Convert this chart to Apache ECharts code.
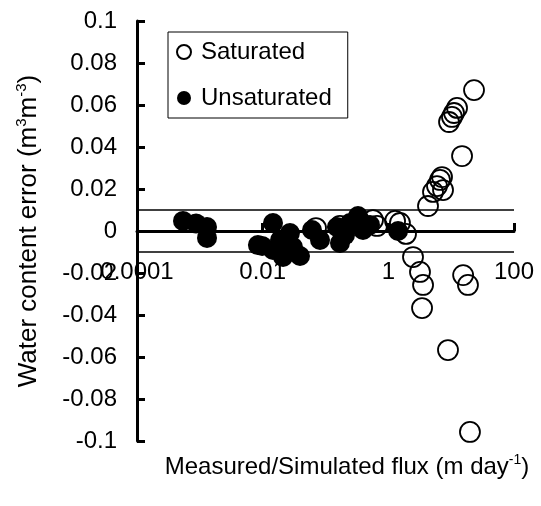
<!DOCTYPE html>
<html>
<head>
<meta charset="utf-8">
<script src="https://cdn.jsdelivr.net/npm/echarts@6/dist/echarts.min.js"></script>
<style>html,body{margin:0;padding:0;background:#fff;}#c{width:541px;height:506px;}</style>
</head>
<body>
<div id="c"></div>
<script>
// Flux (m/day) and water content error (m3/m3)
const saturatedFlux = [0.0706, 0.17, 0.354, 0.57, 0.66, 1.28, 1.53, 1.91, 2.47, 3.19, 3.57, 3.44, 4.28, 5.14, 5.95, 7.42, 6.65, 7.15, 9.25, 10.3, 11.1, 12.4, 23.1, 14.9, 8.9, 15.5, 18.5, 19.9];
const saturatedError = [0.0014, 0.0024, 0.0043, 0.0052, 0.0024, 0.0048, 0.0038, -0.0014, -0.0124, -0.0195, -0.0257, -0.0367, 0.0119, 0.0186, 0.0214, 0.0195, 0.0243, 0.0257, 0.0519, 0.0543, 0.0562, 0.0586, 0.0671, 0.0357, -0.0567, -0.021, -0.0257, -0.0957];
const unsaturatedFlux = [0.00054, 0.00087, 0.0013, 0.0013, 0.0084, 0.0146, 0.0098, 0.0146, 0.0211, 0.0272, 0.0304, 0.0393, 0.0818, 0.061, 0.152, 0.170, 0.245, 0.329, 0.395, 0.511, 1.43, 0.0189, 0.204];
const unsaturatedError = [0.0048, 0.0036, 0.0019, -0.0033, -0.0067, 0.0038, -0.0071, -0.009, -0.0124, -0.001, -0.0076, -0.0119, -0.0043, 0.0005, 0.0019, -0.0057, 0.0038, 0.0071, 0.0005, 0.0029, 0.0, -0.0043, -0.002];
const toleranceLines = [0.01, -0.01];
const xTicks = [0.0001, 0.01, 1, 100];
const yTicks = [-0.1, 0.1, 0.02];

const FONT = 'Liberation Sans, Arial, sans-serif';
const pair = (xs, ys) => xs.map((x, i) => [x, ys[i]]);
const chart = echarts.init(document.getElementById('c'), null, {renderer: 'canvas'});
chart.setOption({
  animation: false,
  backgroundColor: '#fff',
  textStyle: {fontFamily: FONT},
  grid: {left: 137, right: 27, top: 21, bottom: 65, containLabel: false, outerBoundsMode: 'none'},
  legend: {
    orient: 'vertical', left: 168, top: 32,
    padding: [8, 16, 8, 8], itemGap: 22, itemWidth: 14, itemHeight: 14,
    borderColor: '#000', borderWidth: 1, backgroundColor: '#fff',
    textStyle: {fontSize: 24, color: '#000', fontFamily: FONT, padding: [0, 0, 0, 5]},
    data: ['Saturated', 'Unsaturated']
  },
  xAxis: {
    type: 'log', logBase: 100, min: xTicks[0], max: xTicks[xTicks.length - 1],
    offset: -210,
    axisLine: {onZero: false, lineStyle: {color: '#000', width: 3}},
    axisTick: {inside: true, length: 8, lineStyle: {color: '#000', width: 3}},
    axisLabel: {fontSize: 24, color: '#000', margin: 29, fontFamily: FONT,
      formatter: v => String(Number(Number(v).toPrecision(6)))},
    splitLine: {show: false},
    name: '{t|Measured/Simulated flux (m day}{s|-1}{t|)}',
    nameLocation: 'middle', nameGap: 222,
    nameTextStyle: {padding: [0, 0, 0, 43], rich: {
      t: {fontSize: 24, color: '#000', lineHeight: 28, fontFamily: FONT},
      s: {fontSize: 14, color: '#000', lineHeight: 14, verticalAlign: 'top', fontFamily: FONT}
    }}
  },
  yAxis: {
    type: 'value', min: yTicks[0], max: yTicks[1], interval: yTicks[2],
    axisLine: {onZero: false, lineStyle: {color: '#000', width: 3}},
    axisTick: {inside: true, length: 8, lineStyle: {color: '#000', width: 3}},
    axisLabel: {fontSize: 24, color: '#000', margin: 20, fontFamily: FONT,
      formatter: v => String(Number(Number(v).toFixed(4)))},
    splitLine: {show: false},
    name: '{t|Water content error (m}{s|3}{t|m}{s|-3}{t|)}',
    nameLocation: 'middle', nameGap: 93,
    nameTextStyle: {rich: {
      t: {fontSize: 26, color: '#000', lineHeight: 30, fontFamily: FONT},
      s: {fontSize: 15, color: '#000', lineHeight: 15, verticalAlign: 'top', fontFamily: FONT}
    }}
  },
  series: [
    {
      name: 'Saturated', type: 'scatter', z: 2,
      symbol: 'circle', symbolSize: 20,
      itemStyle: {color: 'transparent', borderColor: '#000', borderWidth: 1.8, opacity: 1},
      data: pair(saturatedFlux, saturatedError),
      markLine: {
        silent: true, symbol: 'none', label: {show: false},
        lineStyle: {color: '#000', width: 1.5, type: 'solid'},
        data: toleranceLines.map(v => ({yAxis: v}))
      }
    },
    {
      name: 'Unsaturated', type: 'scatter', z: 3,
      symbol: 'circle', symbolSize: 20,
      itemStyle: {color: '#000', borderColor: '#000', borderWidth: 0, opacity: 1},
      data: pair(unsaturatedFlux, unsaturatedError)
    }
  ]
});
</script>
</body>
</html>
